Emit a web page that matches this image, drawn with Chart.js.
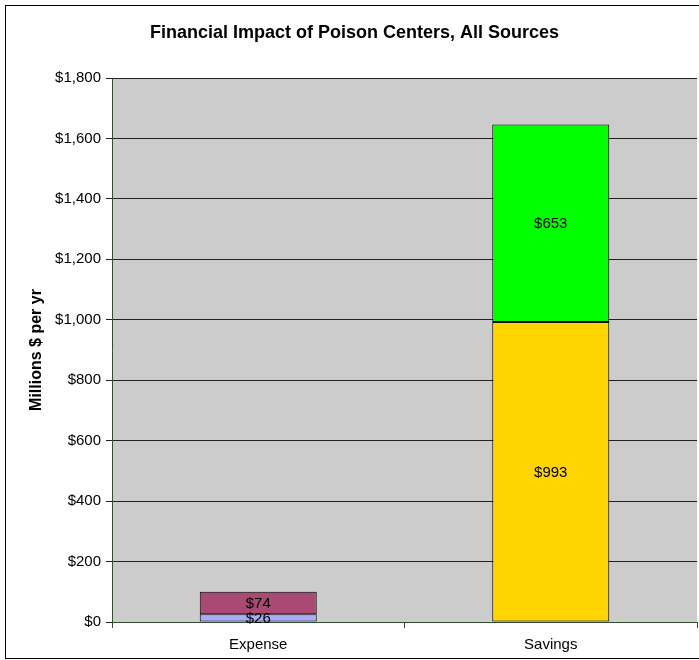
<!DOCTYPE html>
<html><head><meta charset="utf-8">
<script src="https://cdn.jsdelivr.net/npm/chart.js@4/dist/chart.umd.min.js"></script>
<style>html,body{margin:0;padding:0;background:#fff}#wrap{width:699px;height:660px;position:relative}</style>
</head><body><div id="wrap"><canvas id="c" width="699" height="660"></canvas></div>
<script>
const categories = ['Expense', 'Savings'];
const seriesA = [26, 993];      // bottom segments
const seriesB = [74, 653];      // top segments
const colorsA = ['#A9A9FF', '#FFD400'];
const colorsB = ['#A94A74', '#00FF00'];
const yTicks = [0, 200, 400, 600, 800, 1000, 1200, 1400, 1600, 1800];
const titleText = 'Financial Impact of Poison Centers, All Sources';
const yTitle = 'Millions $ per yr';

const FONT = "'Liberation Sans', Arial, sans-serif";

const bgPlugin = {
  id: 'bg',
  beforeDraw(chart) {
    const {ctx, chartArea: a} = chart;
    ctx.save();
    ctx.fillStyle = '#fff';
    ctx.fillRect(0, 0, chart.width, chart.height);
    ctx.fillStyle = '#CCCCCC';
    ctx.fillRect(a.left, a.top, a.right - a.left, a.bottom - a.top);
    ctx.restore();
  },
  afterDraw(chart) {
    const ctx = chart.ctx;
    ctx.save();
    ctx.strokeStyle = '#000';
    ctx.lineWidth = 1;
    ctx.strokeRect(5.5, 5.5, 699, 653);
    ctx.restore();
  }
};

const labelPlugin = {
  id: 'vals',
  afterDatasetsDraw(chart) {
    const ctx = chart.ctx;
    ctx.save();
    ctx.font = '15px ' + FONT;
    ctx.fillStyle = '#000';
    ctx.textAlign = 'center';
    ctx.textBaseline = 'middle';
    chart.data.datasets.forEach((ds, di) => {
      chart.getDatasetMeta(di).data.forEach((el, i) => {
        const v = ds.data[i];
        const y = (el.y + el.base) / 2;
        ctx.fillText('$' + v.toLocaleString('en-US'), el.x, y + 1);
      });
    });
    ctx.restore();
  }
};

new Chart(document.getElementById('c'), {
  type: 'bar',
  data: {
    labels: categories,
    datasets: [
      {data: seriesA, backgroundColor: colorsA, borderColor: '#000', borderWidth: 1, borderSkipped: false, barPercentage: 0.4, categoryPercentage: 1},
      {data: seriesB, backgroundColor: colorsB, borderColor: '#000', borderWidth: 1, borderSkipped: false, barPercentage: 0.4, categoryPercentage: 1}
    ]
  },
  options: {
    responsive: false,
    animation: false,
    devicePixelRatio: 1,
    layout: {padding: {left: 12, right: 2, top: 0, bottom: 0}},
    plugins: {
      legend: {display: false},
      tooltip: {enabled: false},
      title: {display: true, text: titleText, color: '#000', font: {family: FONT, size: 18, weight: 'bold'}, padding: {top: 22, bottom: 34.4}}
    },
    scales: {
      x: {
        stacked: true,
        grid: {display: true, drawOnChartArea: false, drawTicks: true, tickLength: 6, color: '#2F4F2F', offset: true},
        border: {display: true, color: '#2F4F2F', width: 1},
        ticks: {color: '#000', font: {family: FONT, size: 15}, padding: 8},
        afterFit(s) { s.height = 38; }
      },
      y: {
        stacked: true,
        min: 0, max: 1800,
        afterBuildTicks(s) { s.ticks = yTicks.map(v => ({value: v})); },
        grid: {color: '#222', lineWidth: 1, tickLength: 6, drawTicks: true},
        border: {display: true, color: '#2F4F2F', width: 1},
        ticks: {color: '#000', font: {family: FONT, size: 15}, padding: 5, callback: v => '$' + v.toLocaleString('en-US')},
        title: {display: true, text: yTitle, color: '#000', font: {family: FONT, size: 16, weight: 'bold'}, padding: {top: 15, bottom: 0}},
        afterFit(s) { s.width = 100; }
      }
    }
  },
  plugins: [bgPlugin, labelPlugin]
});
</script></body></html>
